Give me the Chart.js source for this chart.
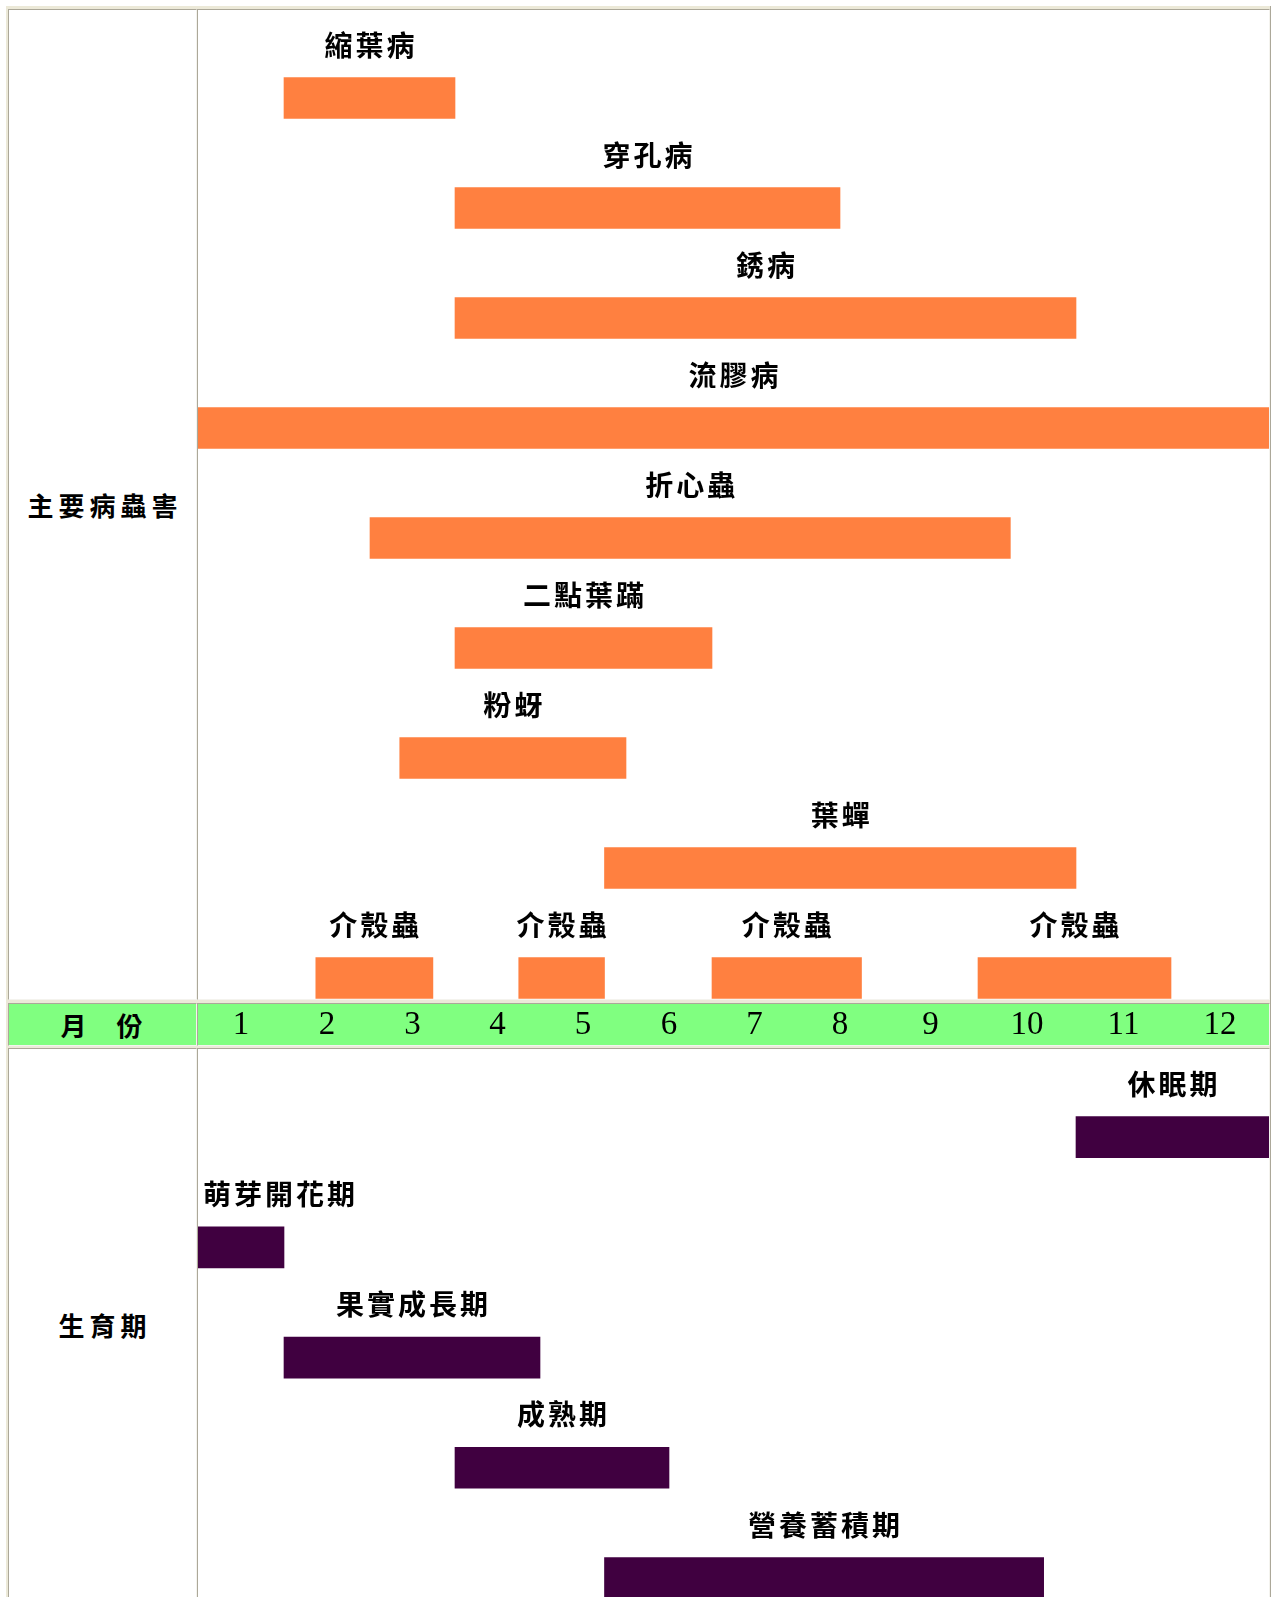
<!DOCTYPE html>
<html>
<head>
<meta charset="utf-8">
<title>桃樹 主要病蟲害與生育期</title>
<script src="https://cdn.jsdelivr.net/npm/chart.js@4.4.1/dist/chart.umd.min.js"></script>
<style>
  html, body { margin: 0; padding: 0; background: #fff; }
  body { width: 1271px; height: 1597px; overflow: hidden; position: relative; font-family: "Noto Sans CJK TC", sans-serif; }
  .frame { position: absolute; left: 6px; top: 6px; width: 1265px; height: 1700px; background: #ece9d8;
           box-sizing: border-box; border-right: 1px solid #aca899; }
  .cell { position: absolute; box-sizing: border-box; background: #fff; border: 1px solid;
          border-color: #aca899 #f4f3ee #f4f3ee #aca899; }
  .green { background: #80ff80; }
  .head { display: flex; align-items: center; justify-content: center; font-weight: 700; color: #000;
          font-size: 26px; letter-spacing: 5px; padding-left: 5px; }
  canvas { position: absolute; }
</style>
</head>
<body>
<div class="frame"></div>
<div class="cell head" style="left:8px; top:9px; width:189px; height:991px;">主要病蟲害</div>
<div class="cell" style="left:197px; top:9px; width:1073px; height:991px;"></div>
<div class="cell green head" style="left:8px; top:1003px; width:189px; height:43px; letter-spacing:2px; padding-left:0px;">月　份</div>
<div class="cell green" style="left:197px; top:1003px; width:1073px; height:43px;"></div>
<div class="cell head" style="left:8px; top:1048px; width:189px; height:552px;">生育期</div>
<div class="cell" style="left:197px; top:1048px; width:1073px; height:552px;"></div>

<canvas id="pestChart" width="1071" height="990" style="left:198px; top:10px;"></canvas>
<canvas id="stageChart" width="1071" height="597" style="left:198px; top:1003px;"></canvas>

<script>
// months on the band between the two parts
const months = ['1', '2', '3', '4', '5', '6', '7', '8', '9', '10', '11', '12'];
// the table columns are not all the same width (relative widths of Jan..Dec)
const monthWidths = [86, 86, 85, 85, 86, 86, 85, 86, 95, 98, 95, 98];

// pests and diseases, in months (0 = start of Jan, 12 = end of Dec)
const pestNames = ['縮葉病', '穿孔病', '銹病', '流膠病', '折心蟲', '二點葉蹣', '粉蚜', '葉蟬',
                   '介殼蟲', '介殼蟲', '介殼蟲', '介殼蟲'];
const pestRows  = [0, 1, 2, 3, 4, 5, 6, 7, 8, 8, 8, 8];
const pestStart = [1, 3, 3, 0, 2, 3, 2.35, 4.75, 1.37, 3.75, 6, 9];
const pestEnd   = [3, 7.5, 10, 12, 9.33, 6, 5, 10, 2.74, 4.75, 7.75, 11];

// growth stages
const stageNames = ['休眠期', '萌芽開花期', '果實成長期', '成熟期', '營養蓄積期'];
const stageRows  = [0, 1, 2, 3, 4];
const stageStart = [10, 0, 1, 3, 4.75];
const stageEnd   = [12, 1, 4, 5.5, 9.67];

const totalWidth = monthWidths.reduce((a, b) => a + b, 0);

// linear scale, but each month gets its own column width like the old table
class MonthScale extends Chart.LinearScale {
    getPixelForValue(value) {
        if (value === null || value === undefined) return NaN;
        const k = Math.max(0, Math.min(monthWidths.length - 1, Math.floor(value)));
        let acc = 0;
        for (let i = 0; i < k; i++) acc += monthWidths[i];
        acc += (value - k) * monthWidths[k];
        return this.left + this.width * acc / totalWidth;
    }
    getValueForPixel(pixel) {
        let pos = (pixel - this.left) / this.width * totalWidth;
        let v = 0;
        for (let i = 0; i < monthWidths.length; i++) {
            if (pos <= monthWidths[i] || i === monthWidths.length - 1) return v + pos / monthWidths[i];
            pos -= monthWidths[i];
            v++;
        }
        return v;
    }
}
MonthScale.id = 'month';
MonthScale.defaults = Chart.LinearScale.defaults;
Chart.register(MonthScale);

// name of each bar written above it
const barLabels = {
    id: 'barLabels',
    afterDatasetsDraw(chart, args, opts) {
        const ctx = chart.ctx;
        const area = chart.chartArea;
        ctx.save();
        ctx.font = 'bold 28px "Noto Sans CJK TC"';
        ctx.letterSpacing = '3px';
        ctx.fillStyle = '#000';
        ctx.textAlign = 'left';
        ctx.textBaseline = 'middle';
        chart.getDatasetMeta(0).data.forEach(function(bar, i) {
            const text = opts.names[i];
            const w = ctx.measureText(text).width - 3;
            const left = Math.min(bar.x, bar.base);
            const right = Math.max(bar.x, bar.base);
            let x = (left + right) / 2 - w / 2;
            x = Math.max(x, area.left + 5);
            ctx.fillText(text, x, bar.y - 53);
        });
        ctx.restore();
    }
};

function createGantt(canvasId, names, rows, starts, ends, color, rowCount, showMonths) {
    return new Chart(document.getElementById(canvasId), {
        type: 'bar',
        data: {
            datasets: [{
                data: names.map((n, i) => ({ y: rows[i], x: [starts[i], ends[i]] })),
                backgroundColor: color,
                borderWidth: 0,
                barThickness: 41
            }]
        },
        options: {
            indexAxis: 'y',
            responsive: false,
            animation: false,
            devicePixelRatio: 1,
            layout: { padding: 0 },
            scales: {
                x: {
                    type: 'month',
                    min: 0,
                    max: 12,
                    display: showMonths,
                    position: 'top',
                    grid: { display: false, drawTicks: false },
                    border: { display: false },
                    afterBuildTicks: function(scale) {
                        scale.ticks = months.map((m, i) => ({ value: i + 0.5 }));
                    },
                    afterFit: function(scale) {
                        scale.height = showMonths ? 46 : 0;
                    },
                    ticks: {
                        autoSkip: false,
                        maxRotation: 0,
                        padding: 4,
                        color: '#000',
                        font: { family: 'Liberation Serif', size: 33 },
                        callback: (value, index) => months[index]
                    }
                },
                y: {
                    type: 'linear',
                    reverse: true,
                    offset: false,
                    min: -0.8,
                    max: rowCount - 0.8,
                    display: false
                }
            },
            plugins: {
                legend: { display: false },
                tooltip: { enabled: false },
                barLabels: { names: names }
            }
        },
        plugins: [barLabels]
    });
}

createGantt('pestChart', pestNames, pestRows, pestStart, pestEnd, '#ff8040', 9, false);
createGantt('stageChart', stageNames, stageRows, stageStart, stageEnd, '#400040', 5, true);
</script>
</body>
</html>
